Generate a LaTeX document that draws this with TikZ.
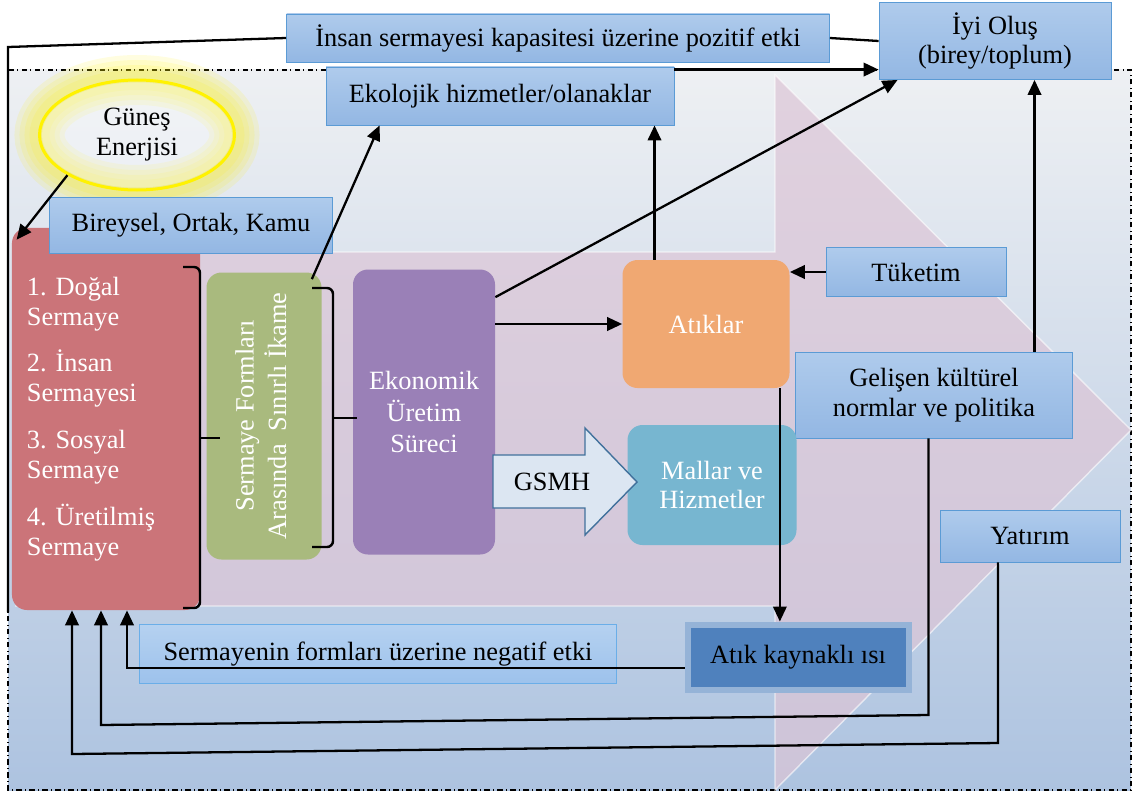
\documentclass[tikz,border=0pt]{standalone}
\usepackage{fontspec}
\setmainfont{Liberation Serif}
\usetikzlibrary{arrows.meta,shapes.geometric}
\definecolor{kutuust}{HTML}{AFCBEC}
\definecolor{kutualt}{HTML}{93B7E3}
\definecolor{kutucizgi}{HTML}{5B9BD5}
\definecolor{acikust}{HTML}{B5D1F0}
\definecolor{acikalt}{HTML}{9DC2EC}
\definecolor{acikcizgi}{HTML}{6AAEE8}
\definecolor{zemust}{HTML}{EEF0F3}
\definecolor{zemalt}{HTML}{ADC3E0}
\definecolor{okpembe}{HTML}{DCC5D6}
\definecolor{kirmizi}{HTML}{CB7479}
\definecolor{yesil}{HTML}{A9BA7E}
\definecolor{mor}{HTML}{9A80B7}
\definecolor{turuncu}{HTML}{F0A872}
\definecolor{mavi}{HTML}{77B6D0}
\definecolor{koyumavi}{HTML}{4F81BD}
\definecolor{koyucizgi}{HTML}{95B3D7}
\definecolor{okmavi}{HTML}{DCE6F2}
\definecolor{okcizgi}{HTML}{41719C}
\begin{document}
\begin{tikzpicture}[x=0.2mm,y=-0.2mm,
	>={Triangle[length=3mm,width=2.7mm]},
	yazi/.style={font=\fontsize{15}{17}\selectfont\frenchspacing},
	kutu/.style={yazi,draw=kutucizgi,line width=.5pt,top color=kutuust,bottom color=kutualt,align=center,inner sep=0pt},
	renkli/.style={yazi,rounded corners=3mm,text=white,align=center,inner sep=0pt},
	ok/.style={->,line width=1.3pt},
	hat/.style={line width=1.3pt},
	parantez/.style={line width=1.4pt,rounded corners=1.2mm}]
	\useasboundingbox (0,0) rectangle (1135,795);
	\fill[top color=zemust,bottom color=zemalt] (8,70) rectangle (1131,790);
	\draw[dash dot,line width=.8pt] (8,70) rectangle (1131,790);
	\fill[okpembe,opacity=.7] (15,252) -- (775,252) -- (775,75) -- (1131,430) -- (775,790) -- (775,606) -- (15,606) -- cycle;
	\draw[white,opacity=.6,line width=.8pt] (15,252) -- (775,252) -- (775,75) -- (1131,430) -- (775,790) -- (775,606) -- (15,606);
	\foreach \g in {10,8,6,4}
		\draw[yellow,line width=\g mm,opacity=.12] (137,135) ellipse [x radius=1.95cm,y radius=1.1cm];
	\fill[white,opacity=.3] (137,135) ellipse [x radius=1.9cm,y radius=1.05cm];

	\node[yazi,ellipse,draw=yellow,line width=.6mm,minimum width=3.9cm,minimum height=2.2cm,align=center,inner sep=0pt] (gunes) at (137,135) {Güneş\\Enerjisi};
	\node[kutu,minimum width=10.86cm,minimum height=.96cm] (insan) at (558,38) {İnsan sermayesi kapasitesi üzerine pozitif etki};
	\node[kutu,minimum width=4.64cm,minimum height=1.54cm] (iyi) at (995,41) {İyi Oluş\\(birey/toplum)};
	\node[kutu,minimum width=6.96cm,minimum height=1.16cm] (eko) at (500,96) {Ekolojik hizmetler/olanaklar};
	\node[kutu,minimum width=3.6cm,minimum height=.98cm] (tuketim) at (916,272) {Tüketim};
	\node[kutu,minimum width=5.54cm,minimum height=1.72cm] (gelisen) at (934,395) {Gelişen kültürel\\normlar ve politika};
	\node[kutu,minimum width=3.6cm,minimum height=1.04cm] (yatirim) at (1030,536) {Yatırım};
	\node[kutu,draw=acikcizgi,top color=acikust,bottom color=acikalt,minimum width=9.54cm,minimum height=1.18cm] (negatif) at (378,654) {Sermayenin formları üzerine negatif etki};
	\node[yazi,fill=koyumavi,draw=koyucizgi,line width=1.2mm,minimum width=4.42cm,minimum height=1.3cm,inner sep=0pt] (isi) at (798,657) {Atık kaynaklı ısı};

	\node[renkli,fill=kirmizi,minimum width=3.76cm,minimum height=7.64cm,text width=3.16cm,align=left] (sermaye) at (106,419)
		{1. Doğal\\Sermaye\\[3.4mm]2. İnsan\\Sermayesi\\[3.4mm]3. Sosyal\\Sermaye\\[3.4mm]4. Üretilmiş\\Sermaye};
	\node[kutu,minimum width=5.66cm,minimum height=1.12cm] (bireysel) at (191,225) {Bireysel, Ortak, Kamu};
	\node[renkli,fill=yesil,minimum width=2.3cm,minimum height=5.74cm] (ikame) at (264,416)
		{\rotatebox{90}{\begin{tabular}{@{}c@{}}Sermaye Formları\\[1pt]Arasında \ Sınırlı İkame\end{tabular}}};
	\node[renkli,fill=mor,minimum width=2.84cm,minimum height=5.7cm,font=\fontsize{15}{18}\selectfont] (surec) at (424,412) {Ekonomik\\Üretim\\Süreci};
	\node[renkli,fill=turuncu,minimum width=3.34cm,minimum height=2.56cm] (atik) at (706,324) {Atıklar};
	\node[renkli,fill=mavi,minimum width=3.38cm,minimum height=2.4cm] (mallar) at (712,485) {Mallar ve\\Hizmetler};
	\filldraw[fill=okmavi,draw=okcizgi,line width=.8pt] (493,455) -- (585,455) -- (585,428) -- (637,482) -- (585,535) -- (585,508) -- (493,508) -- cycle;
	\node[yazi] (gsmh) at (552,482) {GSMH};

	\coordinate (sol1) at (8,47);
	\coordinate (sol2) at (8,612);
	\coordinate (s1) at ([xshift=-6.8mm]sermaye.south);
	\coordinate (s2) at ([xshift=-1mm]sermaye.south);
	\coordinate (s3) at ([xshift=4.2mm]sermaye.south);

	\draw[parantez] (183,267) -- (200,267) -- (200,608) -- (183,608);
	\draw[parantez] (200,438) -- (220,438);
	\draw[parantez] (312,288) -- (333,288) -- (333,547) -- (312,547);
	\draw[parantez] (333,418) -- (357,418);

	\draw[ok] (gunes.210) -- ([xshift=1mm,yshift=-2.4mm]sermaye.north west);
	\draw[ok] ([xshift=-2mm,yshift=-1.4mm]ikame.north east) -- ([xshift=10.8mm]eko.south west);
	\draw[ok] ([yshift=-5.6mm]surec.north east) -- ([xshift=3.8mm]iyi.south west);
	\draw[ok] (surec.east |- atik.west) -- (atik.west);
	\draw[ok] ([xshift=-10.3mm]atik.north) coordinate (a1) -- (a1 |- eko.south);
	\draw[ok] ([yshift=-.6mm]eko.north east) coordinate (e1) -- (e1 -| iyi.west);
	\draw[hat] (iyi.west) -- (insan.east);
	\draw[hat] (insan.west) -- (sol1) -- (sol2);
	\draw[ok] ([xshift=20.1mm]gelisen.north) coordinate (g1) -- (g1 |- iyi.south);
	\draw[ok] (tuketim.west) -- (tuketim.west -| atik.east);
	\draw[ok] ([xshift=-2mm]atik.south east) coordinate (a2) -- (a2 |- isi.north);
	\draw[ok] ([yshift=-2.2mm]isi.west) coordinate (i1) -- (i1 -| s3) -- (s3);
	\draw[ok] ([xshift=-1.1mm]gelisen.south) coordinate (g2) -- (g2 |- 0,715) -- (s2 |- 0,725) -- (s2);
	\draw[ok] ([xshift=-6.4mm]yatirim.south) coordinate (y1) -- (y1 |- 0,743) -- (s1 |- 0,754) -- (s1);
\end{tikzpicture}
\end{document}
